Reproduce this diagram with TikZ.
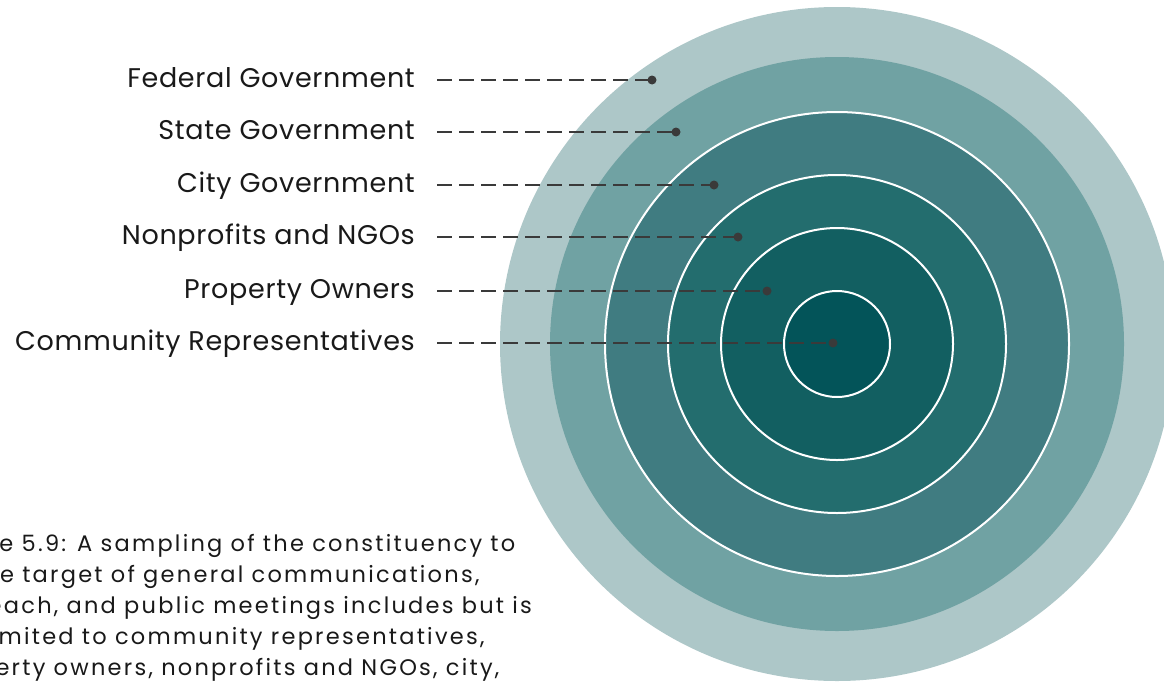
\documentclass[tikz,border=0pt]{standalone}
\usepackage{fontspec}
\setmainfont{Poppins}
\usepackage{xcolor}
\usepackage{tikz}
\usetikzlibrary{positioning}

\definecolor{ringA}{HTML}{ADC7C8}
\definecolor{ringB}{HTML}{70A2A3}
\definecolor{ringC}{HTML}{407C81}
\definecolor{ringD}{HTML}{236D6E}
\definecolor{ringE}{HTML}{125F61}
\definecolor{ringF}{HTML}{035459}
\definecolor{leadgray}{HTML}{3A3A3A}

\newcommand\capfont{\addfontfeatures{LetterSpace=10}\fontsize{22.5}{31}\selectfont}
\newcommand\lblfont{\addfontfeatures{LetterSpace=2.5}\fontsize{27}{30}\selectfont}
\newlength\capshift
\AtBeginDocument{\settowidth\capshift{\normalfont\capfont Figur}%
  \addtolength\capshift{3pt}}

\begin{document}
\begin{tikzpicture}[
  x=1pt,y=-1pt,
  lbl/.style={anchor=east,inner sep=0pt,text height=20pt,text depth=6pt,
              font=\lblfont,text=black!90},
  lead/.style={draw=leadgray,line width=2.2pt,dash pattern=on 15pt off 7pt},
  dot/.style={fill=leadgray},
  ring/.style={draw=white,line width=2pt},
  captxt/.style={anchor=base west,inner sep=0pt,align=left,
              font=\capfont,text=black!90}
]
\useasboundingbox (0,0) rectangle (1164,683);
\clip (0,0) rectangle (1164,683);

%% Rings: outer to inner
\coordinate (ctr) at (837,344);
\fill[ringA] (ctr) circle (337);
\fill[ringB] (ctr) circle (287);
\filldraw[ringC,ring] (ctr) circle (232);
\filldraw[ringD,ring] (ctr) circle (169);
\filldraw[ringE,ring] (ctr) circle (116);
\filldraw[ringF,ring] (ctr) circle (53);

%% Labels
\node[lbl] (fed)   at (415, 80) {Federal Government};
\node[lbl] (state) at (415,132) {State Government};
\node[lbl] (city)  at (415,185) {City Government};
\node[lbl] (ngo)   at (415,237) {Nonprofits and NGOs};
\node[lbl] (prop)  at (415,291) {Property Owners};
\node[lbl] (comm)  at (415,343) {Community Representatives};

%% Dot ends
\coordinate (dFed)   at (652, 80);
\coordinate (dState) at (676,132);
\coordinate (dCity)  at (714,185);
\coordinate (dNgo)   at (738,237);
\coordinate (dProp)  at (767,291);
\coordinate (dComm)  at (833,343);

%% Leaders
\draw[lead] ([xshift=22pt]fed.east)   -- (dFed);
\draw[lead] ([xshift=22pt]state.east) -- (dState);
\draw[lead] ([xshift=22pt]city.east)  -- (dCity);
\draw[lead] ([xshift=22pt]ngo.east)   -- (dNgo);
\draw[lead] ([xshift=22pt]prop.east)  -- (dProp);
\draw[lead] ([xshift=22pt]comm.east)  -- (dComm);
\fill[dot] (dFed)   circle (4.5);
\fill[dot] (dState) circle (4.5);
\fill[dot] (dCity)  circle (4.5);
\fill[dot] (dNgo)   circle (4.5);
\fill[dot] (dProp)  circle (4.5);
\fill[dot] (dComm)  circle (4.5);

%% Caption (cut at the left edge); base is the last line
\node[captxt,xshift=-\capshift] (caption) at (0,675)
  {Figure 5.9: A sampling of the constituency to\\
   be the target of general communications,\\
   outreach, and public meetings includes but is\\
   not limited to community representatives,\\
   property owners, nonprofits and NGOs, city,};

\end{tikzpicture}
\end{document}
